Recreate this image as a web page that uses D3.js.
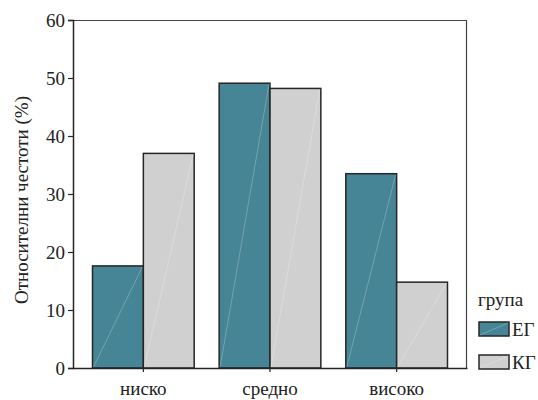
<!DOCTYPE html>
<html>
<head>
<meta charset="utf-8">
<script src="https://cdn.jsdelivr.net/npm/d3@7"></script>
<style>
  body { margin: 0; background: #fff; }
  text { font-family: 'Liberation Serif', Tinos, 'Times New Roman', FreeSerif, serif; }
</style>
</head>
<body>
<script>
var categories = ["ниско", "средно", "високо"];
var groups = ["ЕГ", "КГ"];
var egValues = [17.6, 49.1, 33.5];
var kgValues = [37.0, 48.2, 14.8];
var yTicks = [0, 10, 20, 30, 40, 50, 60];

var colors = { "ЕГ": "#468595", "КГ": "#d0d0d0" };
var fontName = "'Liberation Serif'";

var size = { width: 538, height: 400 };
var margins = { left: 73, top: 20, right: 71, bottom: 32 };
var plotRight = size.width - margins.right;
var plotBottom = size.height - margins.bottom;

var data = [];
categories.forEach(function(c, i) {
  data.push({ cat: c, group: "ЕГ", value: egValues[i] });
  data.push({ cat: c, group: "КГ", value: kgValues[i] });
});

var xScale = d3.scaleBand()
               .domain(categories)
               .range([margins.left, plotRight])
               .paddingInner(0.197)
               .paddingOuter(0.154);

var xInner = d3.scaleBand()
               .domain(groups)
               .range([0, xScale.bandwidth()]);

var yScale = d3.scaleLinear()
               .domain([0, 60])
               .range([plotBottom, margins.top]);

var svg = d3.select("body")
            .append("svg")
            .attr("width", size.width)
            .attr("height", size.height);

// frame (top and right)
svg.append("path")
   .attr("d", "M" + margins.left + "," + (margins.top + 0.5) + "H" + (plotRight - 0.5) + "V" + plotBottom)
   .attr("fill", "none")
   .attr("stroke", "#444")
   .attr("stroke-width", 1.2);

// bars
var bars = svg.append("g").attr("class", "bars")
              .selectAll("g")
              .data(data)
              .enter()
              .append("g");

bars.append("rect")
    .attr("x", function(d) { return xScale(d.cat) + xInner(d.group); })
    .attr("y", function(d) { return yScale(d.value); })
    .attr("width", xInner.bandwidth())
    .attr("height", function(d) { return yScale(0) - yScale(d.value); })
    .attr("fill", function(d) { return colors[d.group]; })
    .attr("stroke", "#262626")
    .attr("stroke-width", 1.5);

// faint diagonal lines inside bars
bars.append("line")
    .attr("x1", function(d) { return xScale(d.cat) + xInner(d.group) + 1; })
    .attr("y1", yScale(0) - 1)
    .attr("x2", function(d) { return xScale(d.cat) + xInner(d.group) + xInner.bandwidth() - 1; })
    .attr("y2", function(d) { return yScale(d.value) + 1; })
    .attr("stroke", "#fff")
    .attr("stroke-opacity", 0.3)
    .attr("stroke-width", 0.8);

// y axis
var yG = svg.append("g")
            .attr("class", "yAxis")
            .attr("transform", "translate(" + margins.left + ",0)")
            .call(d3.axisLeft(yScale).tickValues(yTicks).tickSize(5).tickPadding(3));
yG.attr("font-family", null).attr("font-size", null);
yG.select(".domain").attr("stroke", "#262626").attr("stroke-width", 1.5);
yG.selectAll(".tick line").attr("stroke", "#262626").attr("stroke-width", 1.2);

// x axis
var xG = svg.append("g")
            .attr("class", "xAxis")
            .attr("transform", "translate(0," + plotBottom + ")")
            .call(d3.axisBottom(xScale).tickSize(4).tickPadding(10).tickSizeOuter(0));
xG.attr("font-family", null).attr("font-size", null);
xG.select(".domain").attr("stroke", "#262626").attr("stroke-width", 1.5);
xG.selectAll(".tick line").attr("stroke", "#262626").attr("stroke-width", 1.2);

// y title
svg.append("text")
   .attr("class", "ytitle")
   .attr("transform", "translate(28," + ((margins.top + plotBottom) / 2 + 6) + ") rotate(-90)")
   .attr("text-anchor", "middle")
   .text("Относителни честоти (%)");

// legend
var legend = svg.append("g").attr("class", "legend");
legend.append("text")
      .attr("x", 478)
      .attr("y", 306)
      .text("група");

var items = legend.selectAll("g.item")
                  .data(groups)
                  .enter()
                  .append("g")
                  .attr("class", "item")
                  .attr("transform", function(d, i) { return "translate(479," + (322 + i * 33) + ")"; });

items.append("rect")
     .attr("width", 30)
     .attr("height", 14)
     .attr("fill", function(d) { return colors[d]; })
     .attr("stroke", "#262626")
     .attr("stroke-width", 1.5);

items.append("line")
     .attr("x1", 1).attr("y1", 13).attr("x2", 29).attr("y2", 1)
     .attr("stroke", "#fff")
     .attr("stroke-opacity", 0.3)
     .attr("stroke-width", 0.8);

items.append("text")
     .attr("x", 33)
     .attr("y", 14)
     .text(function(d) { return d; });

// one font style for every text
svg.selectAll("text")
   .style("font-family", function() { return fontName; })
   .style("font-size", "19px")
   .style("fill", "#222");
</script>
</body>
</html>
